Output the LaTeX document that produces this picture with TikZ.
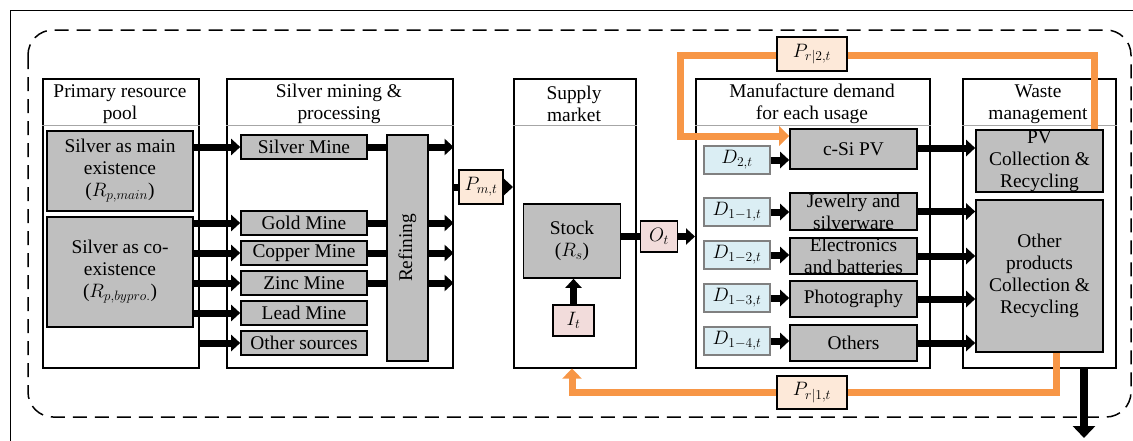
\RequirePackage{fix-cm}
\documentclass[tikz,border=0pt]{standalone}
\usepackage{fontspec}
\setmainfont{Liberation Serif}
\usetikzlibrary{arrows.meta, positioning}

\definecolor{boxgray}{HTML}{BFBFBF}
\definecolor{peach}{HTML}{FDE9D9}
\definecolor{rose}{HTML}{F2DCDB}
\definecolor{paleblue}{HTML}{DBEEF4}
\definecolor{recyc}{HTML}{F79646}

\tikzset{
panel/.style={draw, line width=1.6pt, anchor=north west, minimum height=289pt, inner sep=0pt},
gbox/.style={draw, line width=1.6pt, fill=boxgray, inner sep=0pt, align=center},
mine/.style={gbox, minimum width=126pt, minimum height=24pt},
dbox/.style={draw=gray, line width=1.2pt, fill=paleblue, inner sep=0pt, minimum width=66pt, minimum height=28pt},
usebox/.style={gbox, minimum width=127pt},
varbox/.style={draw, line width=1.6pt, inner sep=0pt},
flow/.style={line width=7pt, -{Triangle[length=9pt,width=16pt]}},
link/.style={line width=7pt},
recycle/.style={line width=7pt, recyc},
}

\begin{document}
\begin{tikzpicture}[x=1pt, y=-1pt, font=\fontsize{19.4}{22}\selectfont]
\useasboundingbox (0,0) rectangle (1133,440);

\draw[line width=1pt] (10,450) -- (10,10) -- (1150,10);
\draw[line width=1.5pt, dash pattern=on 14pt off 8pt, rounded corners=25pt] (28,30) rectangle (1131,417);

\node[panel, minimum width=156pt] (p1) at (42,78) {};
\node[panel, minimum width=226pt] (p2) at (226,78) {};
\node[panel, minimum width=122pt] (p3) at (513,78) {};
\node[panel, minimum width=234pt] (p4) at (695,78) {};
\node[panel, minimum width=153pt] (p5) at (962,78) {};

\foreach \p in {p1,p2,p3,p4,p5} {
\draw[gray!70, line width=0.8pt] ([yshift=-47pt]\p.north west) -- ([yshift=-47pt]\p.north east);
};

\node[align=center] (h1) at (120,104) {Primary resource\\pool};
\node[align=center] (h2) at (339,104) {Silver mining \&\\processing};
\node[align=center] (h3) at (574,104) {Supply\\market};
\node[align=center] (h4) at (812,104) {Manufacture demand\\for each usage};
\node[align=center] (h5) at (1038,104) {Waste\\management};

\node[gbox, minimum width=146pt, minimum height=80pt] (main) at (120,171) {Silver as main\\existence\\($R_{p,main}$)};
\node[gbox, minimum width=146pt, minimum height=110pt] (copro) at (120,272) {Silver as co-\\existence\\($R_{p,bypro.}$)};

\foreach \n/\t/\y in {smine/Silver Mine/147, gmine/Gold Mine/223, cmine/Copper Mine/253,
zmine/Zinc Mine/283, lmine/Lead Mine/313, omine/Other sources/343} {
\node[mine] (\n) at (304,\y) {\t};
};

\node[gbox, minimum width=41pt, minimum height=226pt] (refin) at (407.5,248) {\rotatebox{90}{Refining}};

\draw[flow] (smine.west -| main.east) -- (smine.west);
\foreach \n in {gmine, cmine, zmine, lmine} {
\draw[flow] (\n.west -| copro.east) -- (\n.west);
};
\draw[flow] (omine.west -| p1.east) -- (omine.west);

\foreach \n in {smine, gmine, cmine, zmine} {
\draw[link] (\n.east) -- (\n.east -| refin.west);
\draw[flow] (\n.east -| refin.east) -- (\n.east -| p2.east);
};

\node[varbox, fill=peach, minimum width=44pt, minimum height=34pt] (pm) at (481,187) {$P_{m,t}$};
\draw[link] (pm.west -| p2.east) -- (pm.west);
\draw[flow] (pm.east) -- (pm.east -| p3.west);

\node[gbox, minimum width=97pt, minimum height=74pt] (stock) at (572,241) {Stock\\($R_s$)};
\node[varbox, fill=rose, minimum width=41pt, minimum height=31pt] (it) at (573.5,320.5) {$I_t$};
\node[varbox, fill=rose, minimum width=37pt, minimum height=31pt] (ot) at (659,236.5) {$O_t$};
\draw[flow] (it.north) -- (it.north |- stock.south);
\draw[link] (ot.west -| stock.east) -- (ot.west);
\draw[flow] (ot.east) -- (ot.east -| p4.west);

\foreach \n/\t/\y in {d2/{D_{2,t}}/160, d11/{D_{1-1,t}}/212, d12/{D_{1-2,t}}/255,
d13/{D_{1-3,t}}/298, d14/{D_{1-4,t}}/341} {
\node[dbox] (\n) at (737,\y) {$\t$};
};

\node[usebox, minimum height=40pt] (csi) at (853.5,149) {c-Si PV};
\node[usebox, minimum height=37pt] (jew) at (853.5,211.5) {\fontsize{19.4}{20}\selectfont Jewelry and\\silverware};
\node[usebox, minimum height=36pt] (elec) at (853.5,256) {\fontsize{19.4}{20}\selectfont Electronics\\and batteries};
\node[usebox, minimum height=36pt] (photo) at (853.5,299) {Photography};
\node[usebox, minimum height=36pt] (oths) at (853.5,343) {Others};

\foreach \d/\u in {d2/csi, d11/jew, d12/elec, d13/photo, d14/oths} {
\draw[flow] (\d.east) -- (\d.east -| \u.west);
};

\node[gbox, minimum width=127pt, minimum height=62pt] (pv) at (1039.5,161) {PV\\Collection \&\\Recycling};
\node[gbox, minimum width=127pt, minimum height=152pt] (oth) at (1039.5,276) {Other\\products\\Collection \&\\Recycling};

\draw[flow] ([yshift=1pt]csi.east) -- ([yshift=1pt]csi.east -| pv.west);
\foreach \u in {jew, elec, photo, oths} {
\draw[flow] (\u.east) -- (\u.east -| oth.west);
};

\coordinate (out) at (1084,438);
\draw[line width=8pt, -{Triangle[length=12pt,width=22pt]}] (out |- p5.south) -- (out);

\node[varbox, fill=peach, minimum width=70pt, minimum height=34pt] (pr2) at (812,54) {$P_{r|2,t}$};
\node[varbox, fill=peach, minimum width=70pt, minimum height=33pt] (pr1) at (812,392.5) {$P_{r|1,t}$};

\coordinate (r2) at (1094,55.5);
\coordinate (l2) at (680.5,136);
\draw[recycle] (r2 |- pv.north) -- (r2) -- (r2 -| pr2.east);
\draw[recycle, -{Triangle[length=10pt,width=19pt]}] (r2 -| pr2.west) -- (r2 -| l2) -- (l2) -- (l2 -| csi.west);

\coordinate (r1) at (1056,392.5);
\coordinate (l1) at (572,392.5);
\draw[recycle] (r1 |- oth.south) -- (r1) -- (pr1.east);
\draw[recycle, -{Triangle[length=10pt,width=19pt]}] (pr1.west) -- (l1) -- (l1 |- p3.south);

\end{tikzpicture}
\end{document}
